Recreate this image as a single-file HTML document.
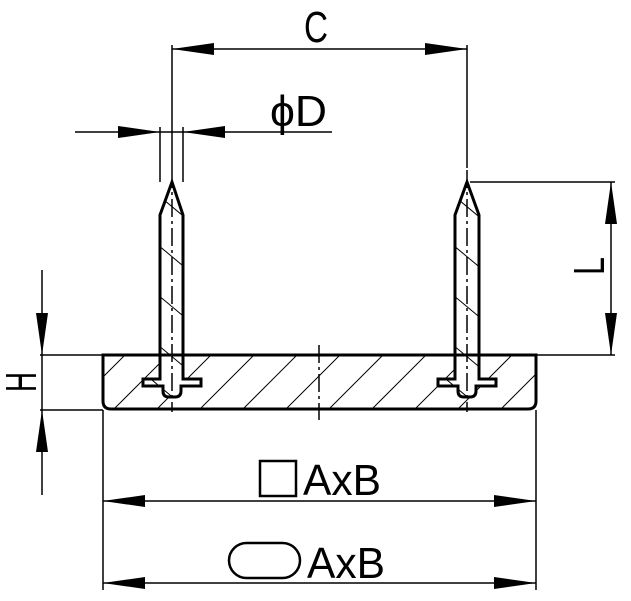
<!DOCTYPE html>
<html><head><style>html,body{margin:0;padding:0;background:#fff}svg{display:block}</style></head>
<body>
<svg width="631" height="601" viewBox="0 0 631 601" xmlns="http://www.w3.org/2000/svg" font-family="Liberation Sans, sans-serif">
<defs>
<clipPath id="base"><path d="M103 355 H536 V401 Q536 409 528 409 H111 Q103 409 103 401 Z"/></clipPath>
<clipPath id="pinL"><path d="M172 182 L160 215 V379 H143 V386 H163 V391 Q163 397 169 397 H175 Q181 397 181 391 V386 H201 V379 H183 V215 Z"/></clipPath>
<clipPath id="pinR"><path d="M467 182 L455 215 V379 H438 V386 H458 V391 Q458 397 464 397 H470 Q476 397 476 391 V386 H496 V379 H479 V215 Z"/></clipPath>
</defs>
<g stroke="#000" fill="none">
<g clip-path="url(#base)" stroke-width="1">
<path d="M60 420 L140 340 M103 420 L183 340 M146 420 L226 340 M189 420 L269 340 M232 420 L312 340 M275 420 L355 340 M318 420 L398 340 M361 420 L441 340 M404 420 L484 340 M447 420 L527 340 M490 420 L570 340 M533 420 L613 340"/>
</g>
<path d="M172 182 L160 215 V379 H143 V386 H163 V391 Q163 397 169 397 H175 Q181 397 181 391 V386 H201 V379 H183 V215 Z" fill="#fff" stroke="none"/>
<path d="M467 182 L455 215 V379 H438 V386 H458 V391 Q458 397 464 397 H470 Q476 397 476 391 V386 H496 V379 H479 V215 Z" fill="#fff" stroke="none"/>
<g clip-path="url(#pinL)" stroke-width="1">
<path d="M140 180 L200 230 M140 230 L200 280 M140 280 L200 330 M140 330 L200 380 M140 370 L200 420"/>
</g>
<g clip-path="url(#pinR)" stroke-width="1">
<path d="M435 180 L495 230 M435 230 L495 280 M435 280 L495 330 M435 330 L495 380 M435 370 L495 420"/>
</g>
<path d="M103 355 H536 V401 Q536 409 528 409 H111 Q103 409 103 401 Z" stroke-width="3"/>
<path d="M172 182 L160 215 V379 H143 V386 H163 V391 Q163 397 169 397 H175 Q181 397 181 391 V386 H201 V379 H183 V215 Z" stroke-width="3" fill="none"/>
<path d="M467 182 L455 215 V379 H438 V386 H458 V391 Q458 397 464 397 H470 Q476 397 476 391 V386 H496 V379 H479 V215 Z" stroke-width="3" fill="none"/>
<g stroke-width="1.5" stroke-dasharray="18 4 3 4">
<path d="M172 170 V412 M467 170 V412 M319 345 V420"/>
</g>
<g stroke-width="1.5">
<path d="M172 45 V170 M467 45 V168"/>
<path d="M160 127 V182 M183 127 V182"/>
<path d="M75 132 H332"/>
<path d="M172 49 H467"/>
<path d="M470 182 H615 M536 355 H615 M611 182 V355"/>
<path d="M40 355 H103 M40 410 H103 M42 270 V495"/>
<path d="M103 410 V590 M536 410 V590 M103 501 H536 M103 583 H536"/>
</g>
</g>
<g fill="#000">
<polygon points="160,132 118,126 118,138"/>
<polygon points="183,132 225,126 225,138"/>
<polygon points="172,49 214,43 214,55"/>
<polygon points="467,49 425,43 425,55"/>
<polygon points="611,182 605,224 617,224"/>
<polygon points="611,355 605,313 617,313"/>
<polygon points="42,355 36,313 48,313"/>
<polygon points="42,410 36,452 48,452"/>
<polygon points="103,501 145,495 145,507"/>
<polygon points="536,501 494,495 494,507"/>
<polygon points="103,583 145,577 145,589"/>
<polygon points="536,583 494,577 494,589"/>
</g>
<g font-size="44" fill="#000">
<text x="304" y="42" textLength="24" lengthAdjust="spacingAndGlyphs">C</text>
<text x="270" y="126" textLength="57" lengthAdjust="spacingAndGlyphs">ϕD</text>
<text x="303" y="495" textLength="78" lengthAdjust="spacingAndGlyphs">AxB</text>
<text x="307" y="578" textLength="78" lengthAdjust="spacingAndGlyphs">AxB</text>
<text transform="translate(604,275) rotate(-90)" x="0" y="0" textLength="18" lengthAdjust="spacingAndGlyphs">L</text>
<text transform="translate(36,392) rotate(-90)" x="0" y="0" textLength="20" lengthAdjust="spacingAndGlyphs">H</text>
</g>
<rect x="260" y="461" width="36" height="35" fill="none" stroke="#000" stroke-width="2.5"/>
<rect x="229" y="543" width="71" height="35" rx="17.5" fill="none" stroke="#000" stroke-width="2.5"/>
</svg>
</body></html>
